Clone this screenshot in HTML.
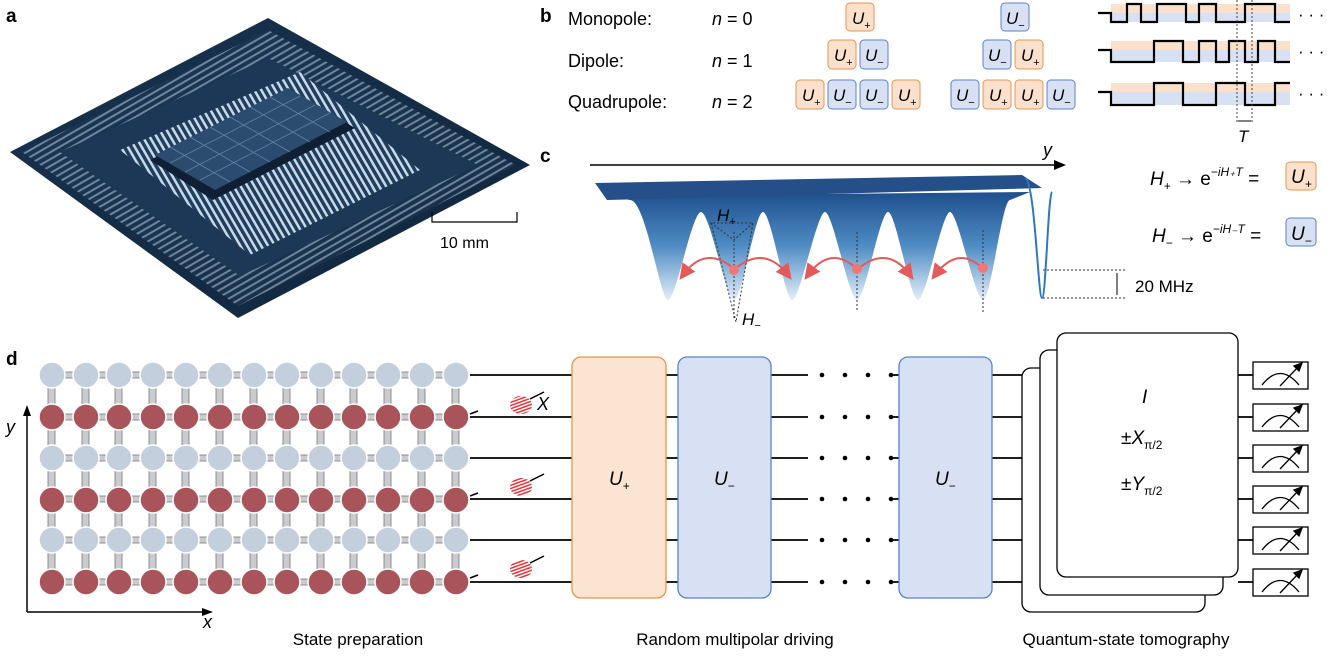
<!DOCTYPE html>
<html><head><meta charset="utf-8"><style>
html,body{margin:0;padding:0;background:#fff;}
svg{display:block;font-family:"Liberation Sans",Arial,sans-serif;}
</style></head><body>
<svg width="1327" height="656" viewBox="0 0 1327 656" xmlns="http://www.w3.org/2000/svg">
<defs>
<linearGradient id="well" x1="0" y1="0" x2="0" y2="1">
<stop offset="0" stop-color="#1d4f8c"/><stop offset="0.5" stop-color="#4f8cc4"/><stop offset="1" stop-color="#e3eef8"/></linearGradient>
<linearGradient id="chip" x1="0" y1="0" x2="1" y2="1">
<stop offset="0" stop-color="#18324f"/><stop offset="1" stop-color="#10263d"/></linearGradient>
<pattern id="str" width="6" height="6" patternUnits="userSpaceOnUse" patternTransform="rotate(60)">
<rect width="6" height="6" fill="#1d3a58"/><rect width="2" height="6" fill="#b9cde0"/></pattern>
<pattern id="str2" width="6" height="6" patternUnits="userSpaceOnUse" patternTransform="rotate(-30)">
<rect width="6" height="6" fill="#203f5f"/><rect width="2.5" height="6" fill="#c9d9e8"/></pattern>
<pattern id="hatch" width="3" height="3" patternUnits="userSpaceOnUse" patternTransform="rotate(70)">
<rect width="3" height="3" fill="#fff"/><rect width="1.5" height="3" fill="#e8323a"/></pattern>
<marker id="ah" markerWidth="8" markerHeight="8" refX="5" refY="4" orient="auto"><path d="M0,0 L8,4 L0,8 Z" fill="#e45a5a"/></marker>
</defs>

<!-- panel a -->
<text x="6" y="22" font-size="19" font-weight="bold">a</text>
<polygon points="10,152 268,18 530,165 238,318" fill="url(#chip)"/>
<polygon points="22,152 268,30 516,165 238,306" fill="url(#str)" opacity="0.55"/>
<polygon points="60,152 268,58 478,165 240,276" fill="#1c3856"/>
<polygon points="120,150 300,72 420,170 250,255" fill="url(#str2)"/>
<polygon points="150,160 290,90 355,128 213,200" fill="#0f2035"/>
<polygon points="155,155 288,88 347,122 215,190" fill="#2b4c6e"/>
<g stroke="#6f8fb0" stroke-width="0.8" opacity="0.8">
<line x1="170" y1="147" x2="230" y2="182"/><line x1="190" y1="137" x2="250" y2="172"/><line x1="210" y1="127" x2="270" y2="162"/><line x1="230" y1="117" x2="290" y2="152"/><line x1="250" y1="107" x2="310" y2="142"/><line x1="270" y1="97" x2="330" y2="132"/>
<line x1="170" y1="163" x2="300" y2="96"/><line x1="185" y1="172" x2="315" y2="105"/><line x1="200" y1="180" x2="330" y2="113"/>
</g>
<g stroke="#000" stroke-width="1.2" fill="none"><path d="M432 212 V222 H517 V212"/></g>
<text x="440" y="248" font-size="16">10 mm</text>

<!-- panel b -->
<text x="540" y="22" font-size="19" font-weight="bold">b</text>
<g font-size="18">
<text x="568" y="25">Monopole:</text><text x="568" y="67">Dipole:</text><text x="568" y="108">Quadrupole:</text>
<text x="712" y="25"><tspan font-style="italic">n</tspan> = 0</text>
<text x="712" y="67"><tspan font-style="italic">n</tspan> = 1</text>
<text x="712" y="108"><tspan font-style="italic">n</tspan> = 2</text>
</g>
<g font-size="17" font-style="italic">
<rect x="846" y="3" width="28" height="28" rx="4" fill="#fbe1cc" stroke="#e8934f"/><text x="852" y="24">U<tspan font-size="11" font-style="normal" dy="5">+</tspan></text>
<rect x="1001" y="3" width="28" height="28" rx="4" fill="#d8e1f4" stroke="#5b83c9"/><text x="1006" y="24">U<tspan font-size="11" font-style="normal" dy="5">−</tspan></text>

<rect x="828" y="40" width="28" height="29" rx="4" fill="#fbe1cc" stroke="#e8934f"/><text x="834" y="61">U<tspan font-size="11" font-style="normal" dy="5">+</tspan></text>
<rect x="860" y="40" width="28" height="29" rx="4" fill="#d8e1f4" stroke="#5b83c9"/><text x="865" y="61">U<tspan font-size="11" font-style="normal" dy="5">−</tspan></text>
<rect x="983" y="40" width="28" height="29" rx="4" fill="#d8e1f4" stroke="#5b83c9"/><text x="988" y="61">U<tspan font-size="11" font-style="normal" dy="5">−</tspan></text>
<rect x="1015" y="40" width="28" height="29" rx="4" fill="#fbe1cc" stroke="#e8934f"/><text x="1021" y="61">U<tspan font-size="11" font-style="normal" dy="5">+</tspan></text>

<rect x="796" y="80" width="28" height="29" rx="4" fill="#fbe1cc" stroke="#e8934f"/><text x="802" y="101">U<tspan font-size="11" font-style="normal" dy="5">+</tspan></text>
<rect x="828" y="80" width="28" height="29" rx="4" fill="#d8e1f4" stroke="#5b83c9"/><text x="833" y="101">U<tspan font-size="11" font-style="normal" dy="5">−</tspan></text>
<rect x="860" y="80" width="28" height="29" rx="4" fill="#d8e1f4" stroke="#5b83c9"/><text x="865" y="101">U<tspan font-size="11" font-style="normal" dy="5">−</tspan></text>
<rect x="892" y="80" width="28" height="29" rx="4" fill="#fbe1cc" stroke="#e8934f"/><text x="898" y="101">U<tspan font-size="11" font-style="normal" dy="5">+</tspan></text>
<rect x="951" y="80" width="28" height="29" rx="4" fill="#d8e1f4" stroke="#5b83c9"/><text x="956" y="101">U<tspan font-size="11" font-style="normal" dy="5">−</tspan></text>
<rect x="983" y="80" width="28" height="29" rx="4" fill="#fbe1cc" stroke="#e8934f"/><text x="989" y="101">U<tspan font-size="11" font-style="normal" dy="5">+</tspan></text>
<rect x="1015" y="80" width="28" height="29" rx="4" fill="#fbe1cc" stroke="#e8934f"/><text x="1021" y="101">U<tspan font-size="11" font-style="normal" dy="5">+</tspan></text>
<rect x="1047" y="80" width="28" height="29" rx="4" fill="#d8e1f4" stroke="#5b83c9"/><text x="1052" y="101">U<tspan font-size="11" font-style="normal" dy="5">−</tspan></text>
</g>
<!-- waveforms -->
<g>
<rect x="1111" y="4" width="179" height="9" fill="#fbe1cc"/><rect x="1111" y="13" width="179" height="9" fill="#d8e1f4"/>
<rect x="1111" y="41" width="179" height="9" fill="#fbe1cc"/><rect x="1111" y="50" width="179" height="12" fill="#d8e1f4"/>
<rect x="1111" y="83" width="179" height="9" fill="#fbe1cc"/><rect x="1111" y="92" width="179" height="13" fill="#d8e1f4"/>
<g fill="none" stroke="#000" stroke-width="2.2">
<path d="M1098 13 H1111 V22 H1127 V4 H1141 V22 H1157 V4 H1186 V22 H1199 V4 H1216 V22 H1245 V4 H1275 V22 H1290"/>
<path d="M1098 50 H1111 V62 H1154 V41 H1183 V62 H1199 V41 H1216 V62 H1229 V41 H1245 V62 H1258 V41 H1275 V62 H1290"/>
<path d="M1098 92 H1111 V105 H1154 V83 H1183 V105 H1216 V83 H1245 V105 H1275 V83 H1290"/>
</g>
<g stroke="#444" stroke-width="1" stroke-dasharray="2,2"><line x1="1237" y1="0" x2="1237" y2="122"/><line x1="1252" y1="0" x2="1252" y2="122"/></g>
<line x1="1238" y1="121" x2="1251" y2="121" stroke="#000"/>
<text x="1238" y="142" font-size="17" font-style="italic">T</text>
<g font-size="17"><text x="1298" y="20">· · ·</text><text x="1298" y="57">· · ·</text><text x="1298" y="99">· · ·</text></g>
</g>

<!-- panel c -->
<text x="540" y="162" font-size="19" font-weight="bold">c</text>
<line x1="590" y1="165" x2="1058" y2="165" stroke="#000" stroke-width="1.5"/>
<polygon points="1066,165 1054,160 1054,170" fill="#000"/>
<text x="1043" y="156" font-size="18" font-style="italic">y</text>
<path d="M607 196 L630 200 C646 200 660 300 668 300 C676 300 692 212 701 212 C710 212 726 300 734 300 C742 300 755 212 763 212 C771 212 785 300 792 300 C800 300 817 212 825 212 C833 212 849 300 857 300 C865 300 880 212 888 212 C896 212 910 300 918 300 C926 300 942 212 950 212 C958 212 975 300 983 300 C991 300 1002 200 1010 200 L1030 192 Z" fill="url(#well)"/>
<polygon points="595,183 1022,175 1042,188 607,200" fill="#244f88"/>
<path d="M1025 178 C1035 180 1038 298 1042 298 C1046 298 1048 195 1052 192" fill="none" stroke="#2e78c2" stroke-width="2"/>
<g stroke="#333" stroke-width="1" stroke-dasharray="2,2" fill="none">
<line x1="734" y1="232" x2="734" y2="318"/><line x1="857" y1="232" x2="857" y2="312"/><line x1="983" y1="230" x2="983" y2="312"/>
<path d="M711 223 L734 240 L753 223 Z"/><path d="M711 223 L736 322 L753 223"/>
<line x1="1043" y1="270" x2="1125" y2="270"/><line x1="1043" y1="298" x2="1125" y2="298"/>
</g>
<line x1="1117" y1="273" x2="1117" y2="295" stroke="#000"/>
<text x="1135" y="292" font-size="17">20 MHz</text>
<text x="717" y="221" font-size="17" font-style="italic">H<tspan font-size="11" dy="4">+</tspan></text>
<text x="742" y="325" font-size="17" font-style="italic">H<tspan font-size="11" dy="4">−</tspan></text>
<g stroke="#e45a5a" stroke-width="2" fill="none" marker-end="url(#ah)">
<path d="M733 268 Q705 245 683 275"/><path d="M736 268 Q765 245 788 275"/>
<path d="M856 268 Q830 245 808 275"/><path d="M859 268 Q888 245 910 275"/>
<path d="M982 268 Q958 245 935 275"/>
</g>
<g fill="#ef7777"><circle cx="734" cy="270" r="5"/><circle cx="857" cy="269" r="5"/><circle cx="983" cy="268" r="5"/></g>
<g font-size="19">
<text x="1150" y="185" font-style="italic">H<tspan font-size="12" font-style="normal" dy="5">+</tspan><tspan dy="-5" font-style="normal"> → e</tspan><tspan font-size="12" dy="-9">−iH₊T</tspan><tspan dy="9" font-style="normal"> =</tspan></text>
<rect x="1286" y="162" width="30" height="28" rx="4" fill="#fbe1cc" stroke="#e8934f"/><text x="1291" y="183" font-style="italic">U<tspan font-size="12" dy="5">+</tspan></text>
<text x="1152" y="242" font-style="italic">H<tspan font-size="12" font-style="normal" dy="5">−</tspan><tspan dy="-5" font-style="normal"> → e</tspan><tspan font-size="12" dy="-9">−iH₋T</tspan><tspan dy="9" font-style="normal"> =</tspan></text>
<rect x="1286" y="218" width="30" height="28" rx="4" fill="#d8e1f4" stroke="#5b83c9"/><text x="1291" y="240" font-style="italic">U<tspan font-size="12" dy="5">−</tspan></text>
</g>

<!-- panel d -->
<text x="6" y="365" font-size="19" font-weight="bold">d</text>
<g stroke="#000" stroke-width="1.5"><line x1="27" y1="612" x2="27" y2="412"/><line x1="27" y1="612" x2="206" y2="612"/></g>
<polygon points="27,405 23,416 31,416"/><polygon points="213,612 202,608 202,616"/>
<text x="6" y="433" font-size="18" font-style="italic">y</text>
<text x="203" y="628" font-size="18" font-style="italic">x</text>
<g fill="#c9cbcf" stroke="#777" stroke-width="0.8">
<rect x="52" y="372" width="404" height="6"/><rect x="52" y="414" width="404" height="6"/><rect x="52" y="455" width="404" height="6"/><rect x="52" y="496" width="404" height="6"/><rect x="52" y="537" width="404" height="6"/><rect x="52" y="579" width="404" height="6"/>
</g>
<g fill="#c9cbcf" stroke="#777" stroke-width="0.8">
<rect x="48" y="375" width="7" height="207"/><rect x="82" y="375" width="7" height="207"/><rect x="115" y="375" width="7" height="207"/><rect x="149" y="375" width="7" height="207"/><rect x="182" y="375" width="7" height="207"/><rect x="216" y="375" width="7" height="207"/><rect x="250" y="375" width="7" height="207"/><rect x="283" y="375" width="7" height="207"/><rect x="317" y="375" width="7" height="207"/><rect x="350" y="375" width="7" height="207"/><rect x="384" y="375" width="7" height="207"/><rect x="418" y="375" width="7" height="207"/><rect x="452" y="375" width="7" height="207"/>
</g>
<g id="rows">
<g fill="#c3cfdd" stroke="#fff" stroke-width="1.5">
<circle cx="52" cy="375" r="13"/><circle cx="86" cy="375" r="13"/><circle cx="119" cy="375" r="13"/><circle cx="153" cy="375" r="13"/><circle cx="186" cy="375" r="13"/><circle cx="220" cy="375" r="13"/><circle cx="254" cy="375" r="13"/><circle cx="287" cy="375" r="13"/><circle cx="321" cy="375" r="13"/><circle cx="354" cy="375" r="13"/><circle cx="388" cy="375" r="13"/><circle cx="422" cy="375" r="13"/><circle cx="456" cy="375" r="13"/>
</g>
<g fill="#a9545a" stroke="#fff" stroke-width="1.5">
<circle cx="52" cy="417" r="13"/><circle cx="86" cy="417" r="13"/><circle cx="119" cy="417" r="13"/><circle cx="153" cy="417" r="13"/><circle cx="186" cy="417" r="13"/><circle cx="220" cy="417" r="13"/><circle cx="254" cy="417" r="13"/><circle cx="287" cy="417" r="13"/><circle cx="321" cy="417" r="13"/><circle cx="354" cy="417" r="13"/><circle cx="388" cy="417" r="13"/><circle cx="422" cy="417" r="13"/><circle cx="456" cy="417" r="13"/>
</g>
</g>
<use href="#rows" y="83"/><use href="#rows" y="165"/>
<g>
<ellipse cx="521" cy="405" rx="11" ry="9" fill="url(#hatch)"/><ellipse cx="521" cy="487" rx="11" ry="9" fill="url(#hatch)"/><ellipse cx="521" cy="569" rx="11" ry="9" fill="url(#hatch)"/>
<g stroke="#000" stroke-width="1.5"><line x1="470" y1="414" x2="478" y2="411"/><line x1="530" y1="399" x2="544" y2="392"/><line x1="470" y1="496" x2="478" y2="493"/><line x1="530" y1="481" x2="544" y2="474"/><line x1="470" y1="578" x2="478" y2="575"/><line x1="530" y1="563" x2="544" y2="556"/></g>
<text x="537" y="410" font-size="18" font-style="italic">X</text>
</g>
<g stroke="#000" stroke-width="1.8">
<line x1="470" y1="375" x2="572" y2="375"/><line x1="470" y1="417" x2="572" y2="417"/><line x1="470" y1="458" x2="572" y2="458"/><line x1="470" y1="499" x2="572" y2="499"/><line x1="470" y1="540" x2="572" y2="540"/><line x1="470" y1="582" x2="572" y2="582"/>
</g>
<g stroke="#000" stroke-width="1.8">
<path d="M666 375H678M666 417H678M666 458H678M666 499H678M666 540H678M666 582H678"/>
<path d="M771 375H808M771 417H808M771 458H808M771 499H808M771 540H808M771 582H808"/>
<path d="M893 375H899M893 417H899M893 458H899M893 499H899M893 540H899M893 582H899"/>
<path d="M992 375H1022M992 417H1022M992 458H1022M992 499H1022M992 540H1022M992 582H1022"/>
<path d="M1238 375H1253M1238 417H1253M1238 458H1253M1238 499H1253M1238 540H1253M1238 582H1253"/>
</g>
<g fill="#000">
<g id="dots"><circle cx="822" cy="375" r="2.3"/><circle cx="845" cy="375" r="2.3"/><circle cx="868" cy="375" r="2.3"/><circle cx="891" cy="375" r="2.3"/></g>
<use href="#dots" y="42"/><use href="#dots" y="83"/><use href="#dots" y="124"/><use href="#dots" y="165"/><use href="#dots" y="207"/>
</g>
<rect x="572" y="357" width="94" height="241" rx="9" fill="#fbe4d2" stroke="#e8934f" stroke-width="1.3"/>
<rect x="678" y="357" width="93" height="241" rx="9" fill="#d8e1f4" stroke="#5b83c9" stroke-width="1.3"/>
<rect x="899" y="357" width="93" height="241" rx="9" fill="#d8e1f4" stroke="#5b83c9" stroke-width="1.3"/>
<g font-size="19" font-style="italic">
<text x="609" y="485">U<tspan font-size="12" font-style="normal" dy="5">+</tspan></text>
<text x="714" y="485">U<tspan font-size="12" font-style="normal" dy="5">−</tspan></text>
<text x="935" y="485">U<tspan font-size="12" font-style="normal" dy="5">−</tspan></text>
</g>
<rect x="1022" y="368" width="183" height="244" rx="9" fill="#fff" stroke="#000" stroke-width="1.3"/>
<rect x="1040" y="350" width="183" height="245" rx="9" fill="#fff" stroke="#000" stroke-width="1.3"/>
<rect x="1057" y="333" width="181" height="244" rx="9" fill="#fff" stroke="#000" stroke-width="1.3"/>
<g font-size="19">
<text x="1142" y="403" font-style="italic">I</text>
<text x="1121" y="444">±<tspan font-style="italic">X</tspan><tspan font-size="12" dy="5">π/2</tspan></text>
<text x="1121" y="490">±<tspan font-style="italic">Y</tspan><tspan font-size="12" dy="5">π/2</tspan></text>
</g>
<g id="meter" fill="none" stroke="#000" stroke-width="1.3">
<rect x="1253" y="362" width="55" height="27" fill="#fff"/>
<path d="M1262 385 Q1280 362 1299 385"/><line x1="1280" y1="386" x2="1299" y2="366"/><polygon points="1302,363 1294,366 1299,371" fill="#000"/>
</g>
<use href="#meter" y="42"/><use href="#meter" y="83"/><use href="#meter" y="124"/><use href="#meter" y="165"/><use href="#meter" y="207"/>
<g font-size="17">
<text x="358" y="645" text-anchor="middle">State preparation</text>
<text x="735" y="645" text-anchor="middle">Random multipolar driving</text>
<text x="1126" y="645" text-anchor="middle">Quantum-state tomography</text>
</g>
</svg>
</body></html>
